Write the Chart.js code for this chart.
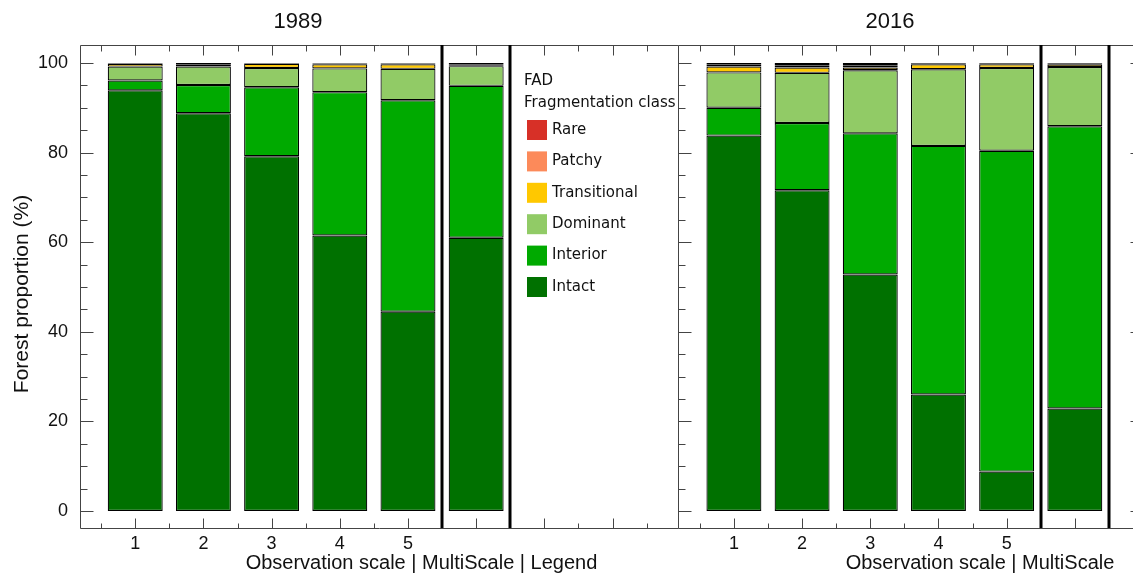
<!DOCTYPE html>
<html><head><meta charset="utf-8">
<script src="https://cdn.jsdelivr.net/npm/chart.js@4.4.1/dist/chart.umd.min.js"></script>
<style>
html,body{margin:0;padding:0;background:#fff;overflow:hidden;width:1133px;height:573px;}
#c1{position:absolute;left:0;top:0;}
#c2{position:absolute;left:678px;top:0;}
</style></head><body>
<canvas id="c1" width="679" height="573"></canvas>
<canvas id="c2" width="468" height="573"></canvas>
<script>
// ---- data ----
const positions = [1, 2, 3, 4, 5, 6];           // 1..5 observation scales, 6 = MultiScale
const tickLabels = ['1', '2', '3', '4', '5'];
const classNames = ['Intact', 'Interior', 'Dominant', 'Transitional', 'Patchy', 'Rare'];

const intact1989       = [93.9, 88.8, 79.2, 61.5, 44.5, 61.0];
const interior1989     = [2.2, 6.3, 15.4, 32.0, 47.2, 33.9];
const dominant1989     = [3.1, 4.1, 4.3, 5.3, 7.0, 4.4];
const transitional1989 = [0.6, 0.5, 0.9, 0.9, 1.0, 0.2];
const patchy1989       = [0.1, 0.1, 0.1, 0.2, 0.2, 0.2];
const rare1989         = [0.1, 0.2, 0.1, 0.1, 0.1, 0.3];

const intact2016       = [83.8, 71.6, 52.8, 26.0, 8.8, 22.9];
const interior2016     = [6.2, 15.0, 31.5, 55.5, 71.6, 63.0];
const dominant2016     = [7.9, 11.2, 14.1, 17.1, 18.5, 13.2];
const transitional2016 = [1.3, 1.2, 0.6, 1.1, 0.8, 0.6];
const patchy2016       = [0.4, 0.5, 0.5, 0.15, 0.15, 0.15];
const rare2016         = [0.4, 0.5, 0.5, 0.15, 0.15, 0.15];

const yTickValues = [0, 20, 40, 60, 80, 100];

// ---- styles ----
const classColors = ['#007100', '#00aa00', '#91cb66', '#ffc800', '#fc8a5a', '#d73027'];
const AXFONT = 'Liberation Sans, Arial, sans-serif';

function makeDatasets(series) {
  return series.map((arr, i) => ({
    label: classNames[i],
    data: positions.map((p, j) => ({ x: p, y: arr[j] })),
    backgroundColor: classColors[i],
    borderColor: '#000',
    borderWidth: 1.2,
    borderSkipped: false,
    inflateAmount: 0,
    barPercentage: 0.806,
    categoryPercentage: 1
  }));
}

const panelPlugin = {
  id: 'panel',
  afterDatasetsDraw(chart, args, o) {
    const { ctx, chartArea: ca, scales: { x, y } } = chart;
    const L = Math.round(ca.left) + 0.5, R = Math.round(ca.right) + 0.5;
    const T = Math.round(ca.top) + 0.5, B = Math.round(ca.bottom) + 0.5;
    ctx.save();
    ctx.lineWidth = 1;
    ctx.strokeStyle = '#444';
    const seg = (x1, y1, x2, y2) => { ctx.beginPath(); ctx.moveTo(x1, y1); ctx.lineTo(x2, y2); ctx.stroke(); };
    // frame
    seg(L, T, R, T); seg(L, B, R, B);
    if (o.left) seg(L, T, L, B);
    if (o.right) seg(R, T, R, B);
    // x ticks (inward)
    for (let v = Math.ceil(x.min * 2) / 2; v <= x.max + 1e-9; v += 0.5) {
      if (o.separators.some(s => Math.abs(s - v) < 1e-6)) continue;
      const px = Math.round(x.getPixelForValue(v)) + 0.5;
      const major = Math.abs(v - Math.round(v)) < 1e-6;
      seg(px, T, px, T + (major ? 10 : 6));
      seg(px, B, px, B - (major ? 10 : 5));
    }
    // y ticks (inward)
    for (let v = 0; v <= 100; v += 5) {
      const py = Math.round(y.getPixelForValue(v)) + 0.5;
      const major = v % 20 === 0;
      if (o.left) seg(L, py, L + (major ? 13 : 7), py);
      if (o.right) seg(R, py, R - (major ? 13 : 7), py);
    }
    // separators
    ctx.strokeStyle = '#000';
    ctx.lineWidth = 3;
    o.separators.forEach(s => {
      const px = Math.round(x.getPixelForValue(s));
      seg(px, ca.top, px, ca.bottom);
    });
    // texts
    ctx.fillStyle = '#111';
    ctx.textAlign = 'center';
    ctx.textBaseline = 'middle';
    o.texts.forEach(t => {
      ctx.save();
      ctx.font = t.font;
      ctx.translate(t.x, t.y);
      if (t.rot) ctx.rotate(t.rot);
      ctx.fillText(t.text, 0, 0);
      ctx.restore();
    });
    // legend
    if (o.legend) {
      const lg = o.legend;
      ctx.textAlign = 'left';
      ctx.font = '15px "DejaVu Sans", sans-serif';
      ctx.fillStyle = '#111';
      ctx.fillText('FAD', lg.x - 3, lg.titleY);
      ctx.fillText('Fragmentation class', lg.x - 3, lg.titleY + 22);
      const ds = chart.data.datasets.slice().reverse();
      ds.forEach((d, i) => {
        const cy = lg.y0 + i * lg.dy;
        ctx.fillStyle = d.backgroundColor;
        ctx.fillRect(lg.x, cy - 10, 20, 20);
        ctx.fillStyle = '#111';
        ctx.fillText(d.label, lg.x + 25, cy);
      });
    }
    ctx.restore();
  }
};

function makeOptions(cfg) {
  return {
    responsive: false,
    animation: false,
    devicePixelRatio: 1,
    layout: { padding: { left: 0, right: cfg.padRight, top: 45, bottom: 0 } },
    plugins: {
      legend: { display: false },
      tooltip: { enabled: false },
      panel: cfg.panel
    },
    scales: {
      x: {
        type: 'linear',
        stacked: true,
        offset: false,
        min: cfg.xmin, max: cfg.xmax,
        grid: { display: false, drawTicks: false, offset: false },
        border: { display: false },
        afterBuildTicks: s => { s.ticks = tickLabels.map((t, i) => ({ value: positions[i] })); },
        afterFit: s => { s.height = 45; },
        ticks: {
          padding: 5,
          color: '#111',
          font: { family: AXFONT, size: 18 },
          callback: (v) => { const i = positions.indexOf(v); return i >= 0 && i < tickLabels.length ? tickLabels[i] : ''; }
        }
      },
      y: {
        display: true,
        stacked: true,
        min: -3.79, max: 104.02,
        grid: { display: false, drawTicks: false },
        border: { display: false },
        afterBuildTicks: s => { s.ticks = yTickValues.map(v => ({ value: v })); },
        afterFit: s => { s.width = cfg.showY ? 80 : 0; },
        ticks: { display: cfg.showY, padding: 12, color: '#111', font: { family: AXFONT, size: 18 } },
        title: { display: false }
      }
    }
  };
}

new Chart(document.getElementById('c1'), {
  type: 'bar',
  data: { datasets: makeDatasets([intact1989, interior1989, dominant1989, transitional1989, patchy1989, rare1989]) },
  options: makeOptions({
    xmin: 0.19, xmax: 8.96, padRight: 1, showY: true,
    panel: {
      left: true, right: false, separators: [5.5, 6.5],
      texts: [
        { text: '1989', x: 298, y: 22, font: '22px ' + AXFONT },
        { text: 'Observation scale | MultiScale | Legend', x: 421.5, y: 563, font: '20px ' + AXFONT },
        { text: 'Forest proportion (%)', x: 22, y: 294, rot: -Math.PI / 2, font: '21px ' + AXFONT }
      ],
      legend: { x: 527, titleY: 81, y0: 130, dy: 31.4 }
    }
  }),
  plugins: [panelPlugin]
});

new Chart(document.getElementById('c2'), {
  type: 'bar',
  data: { datasets: makeDatasets([intact2016, interior2016, dominant2016, transitional2016, patchy2016, rare2016]) },
  options: makeOptions({
    xmin: 0.18, xmax: 7.0, padRight: 3, showY: false,
    panel: {
      left: true, right: true, separators: [5.5, 6.5],
      texts: [
        { text: '2016', x: 890 - 678, y: 22, font: '22px ' + AXFONT },
        { text: 'Observation scale | MultiScale', x: 980 - 678, y: 563, font: '20px ' + AXFONT }
      ],
      legend: null
    }
  }),
  plugins: [panelPlugin]
});
</script>
</body></html>
